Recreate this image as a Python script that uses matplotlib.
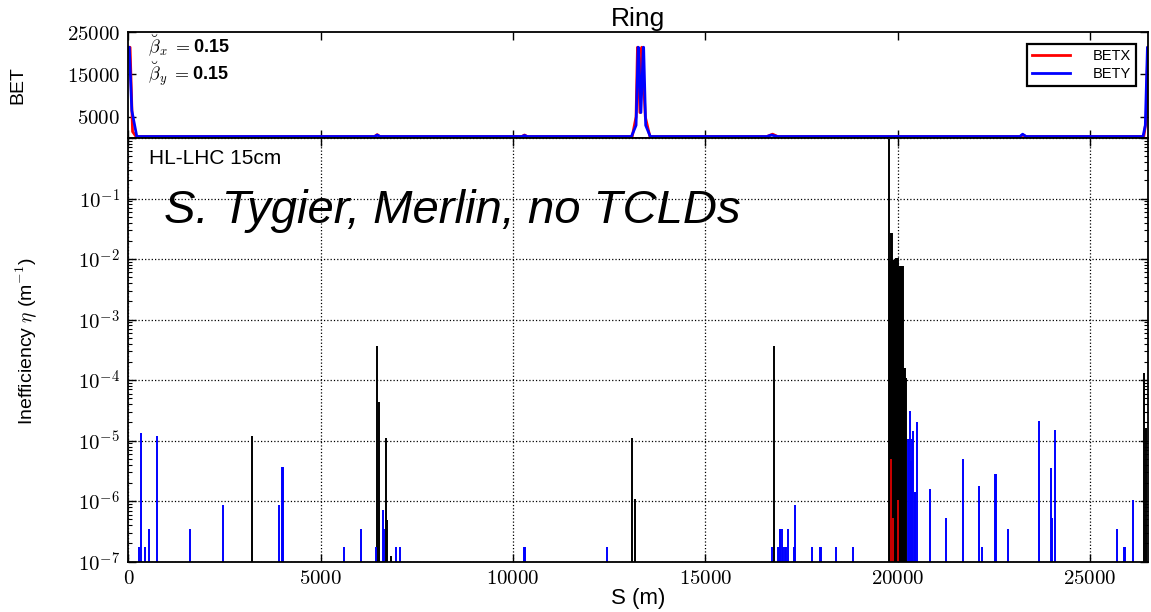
import numpy as np
import matplotlib
matplotlib.use("Agg")
import matplotlib.pyplot as plt
from matplotlib.ticker import FuncFormatter, FixedLocator, LogLocator, NullFormatter

plt.rcParams['font.family'] = ['Liberation Sans', 'DejaVu Sans']
plt.rcParams['mathtext.fontset'] = 'cm'

# ---------------- data ----------------
# optics (top panel)
betx_s = [0, 45, 110, 200, 3000, 6400, 6470, 6540, 10230, 10300, 10370,
          13100, 13200, 13237, 13244, 13300, 13347, 13354, 13440, 13560,
          16600, 16750, 16880, 23180, 23260, 23340, 26400, 26460, 26505, 26520]
betx = [21400, 21400, 1500, 350, 350, 350, 800, 350, 350, 700, 350,
        350, 5000, 21400, 21400, 6000, 21400, 21400, 5000, 350,
        350, 900, 350, 350, 700, 350, 350, 4000, 21400, 21400]
bety_s = [0, 25, 90, 220, 3000, 6400, 6470, 6540, 10230, 10300, 10370,
          13080, 13200, 13255, 13262, 13326, 13390, 13397, 13450, 13570,
          16600, 16720, 16880, 23180, 23250, 23340, 26380, 26440, 26495, 26520]
bety = [21400, 21400, 6500, 350, 350, 350, 700, 350, 350, 600, 350,
        350, 3000, 21400, 21400, 6000, 21400, 21400, 3000, 350,
        350, 700, 350, 350, 900, 350, 350, 3000, 21400, 21400]

# loss map (bottom panel)
coll_s = [3215, 6464, 6507, 6697, 6731, 6819, 13090, 13176, 16789,
          19775, 19800, 19825, 19850, 19875, 19900, 19925, 19950, 19975, 20000,
          20025, 20050, 20075, 20100, 20125, 20150, 20175, 20200, 20225,
          26395, 26465]
coll_eta = [1.2e-5, 3.6e-4, 4.3e-5, 1.1e-5, 4.9e-7, 1.25e-7, 1.1e-5, 1.1e-6, 3.6e-4,
            0.95, 9.4e-3, 2.7e-2, 2.7e-2, 9.5e-3, 9.5e-3, 9.5e-3, 1.05e-2, 1.05e-2, 1.05e-2,
            7.0e-3, 7.8e-3, 7.8e-3, 7.8e-3, 7.6e-3, 7.6e-3, 1.6e-4, 1.6e-4, 1.1e-4,
            1.3e-4, 1.6e-5]

cold_s = [278, 339, 425, 546, 746, 1603, 2469, 3925, 3990, 4030, 5614, 6040, 6429,
          6611, 6653, 6949, 7069, 10280, 10305, 12432,
          16729, 16880, 16905, 16930, 16955, 16990, 17030, 17060, 17090, 17140,
          17309, 17335, 17769, 17975, 18000, 18401, 18830,
          20260, 20285, 20320, 20345, 20370, 20410, 20440, 20465, 20515,
          20834, 21258, 21692, 22115, 22203, 22530, 22555, 22870,
          23667, 23979, 24013, 24101, 25702, 25890, 25912, 26127]
cold_eta = [1.75e-7, 1.35e-5, 1.75e-7, 3.5e-7, 1.2e-5, 3.5e-7, 8.75e-7, 8.75e-7, 3.7e-6, 3.7e-6,
            1.75e-7, 3.5e-7, 1.75e-7,
            7.2e-7, 3.5e-7, 1.75e-7, 1.75e-7, 1.75e-7, 1.75e-7, 1.75e-7,
            1.75e-7, 1.75e-7, 1.75e-7, 3.5e-7, 3.5e-7, 3.5e-7, 1.75e-7, 1.75e-7, 1.75e-7, 3.5e-7,
            1.75e-7, 8.75e-7, 1.75e-7, 1.75e-7, 1.75e-7, 1.75e-7, 1.75e-7,
            1.07e-5, 1.07e-5, 3.1e-5, 4.6e-6, 1.07e-5, 1.47e-5, 1.4e-6, 1.4e-6, 2.05e-5,
            1.6e-6, 5.2e-7, 5.0e-6, 1.75e-6, 1.75e-7, 2.85e-6, 2.85e-6, 3.5e-7,
            2.15e-5, 3.5e-6, 5.2e-7, 1.5e-5, 3.5e-7, 1.75e-7, 1.75e-7, 1.05e-6]

warm_s = [19820, 19890, 20020]
warm_eta = [4.9e-6, 5.2e-7, 1.05e-6]

s_ticks = [0, 5000, 10000, 15000, 20000, 25000]
bet_ticks = [5000, 15000, 25000]
s_max = 26510
eta_min, eta_max = 1e-7, 1.0

# ---------------- figure ----------------
fig = plt.figure(figsize=(11.51, 6.12), dpi=100)
axL = 0.1115
axW = 0.9974 - axL
ax1 = fig.add_axes([axL, 0.7745, axW, 0.1732])
ax2 = fig.add_axes([axL, 0.0822, axW, 0.6923])

# top panel
ax1.plot(betx_s, betx, color='red', lw=2.0, label='BETX')
ax1.plot(bety_s, bety, color='blue', lw=2.0, label='BETY')
ax1.set_xlim(0, s_max)
ax1.set_ylim(0, 25000)
ax1.yaxis.set_major_locator(FixedLocator(bet_ticks))
ax1.xaxis.set_major_locator(FixedLocator(s_ticks))
ax1.yaxis.set_major_formatter(FuncFormatter(lambda v, p: r'$%d$' % v))
ax1.xaxis.set_major_formatter(NullFormatter())
ax1.set_ylabel('BET', fontsize=14)
ax1.yaxis.set_label_coords(-0.100, 0.5)
ax1.set_title('Ring', fontsize=19, pad=4)
ax1.text(0.019, 0.81, r'$\breve{\beta}_x\ =$0.15', transform=ax1.transAxes,
         fontsize=13, fontweight='bold', va='baseline', ha='left')
ax1.text(0.019, 0.55, r'$\breve{\beta}_y\ =$0.15', transform=ax1.transAxes,
         fontsize=13, fontweight='bold', va='baseline', ha='left')
leg = ax1.legend(loc='upper right', bbox_to_anchor=(0.995, 0.955), fontsize=10.5,
                 fancybox=False, framealpha=1, edgecolor='black',
                 handlelength=2.6, borderpad=0.35, labelspacing=0.25, handletextpad=1.5)
leg.get_frame().set_linewidth(1.6)

# bottom panel
ax2.set_yscale('log')
ax2.vlines(coll_s, eta_min, coll_eta, color='black', lw=1.4)
ax2.vlines(cold_s, eta_min, cold_eta, color='blue', lw=1.4)
ax2.vlines(warm_s, eta_min, warm_eta, color='#cc0000', lw=1.4)
ax2.set_xlim(0, s_max)
ax2.set_ylim(eta_min, eta_max)
ax2.xaxis.set_major_locator(FixedLocator(s_ticks))
ax2.xaxis.set_major_formatter(FuncFormatter(lambda v, p: r'$%d$' % v))
ax2.yaxis.set_major_locator(FixedLocator([1e-7, 1e-6, 1e-5, 1e-4, 1e-3, 1e-2, 1e-1, 1.0]))
ax2.yaxis.set_minor_locator(LogLocator(base=10, subs=np.arange(2, 10), numticks=20))
ax2.yaxis.set_minor_formatter(NullFormatter())
ax2.yaxis.set_major_formatter(FuncFormatter(
    lambda v, p: r'$10^{%d}$' % int(round(np.log10(v))) if v < 0.5 else ''))
ax2.grid(True, which='major', linestyle=':', color='black', lw=0.9)
ax2.set_xlabel('S (m)', fontsize=16)
ax2.xaxis.set_label_coords(0.5, -0.062)
ax2.set_ylabel(r'Inefficiency $\eta$ (m$^{-1}$)', fontsize=14)
ax2.yaxis.set_label_coords(-0.088, 0.52)
ax2.text(0.02, 0.9386, 'HL-LHC 15cm', transform=ax2.transAxes, fontsize=15,
         va='baseline', ha='left')
ax2.text(0.035, 0.799, 'S. Tygier, Merlin, no TCLDs', transform=ax2.transAxes,
         fontsize=34, style='italic', va='baseline', ha='left')

for ax in (ax1, ax2):
    for sp in ax.spines.values():
        sp.set_linewidth(1.3)
    ax.tick_params(which='both', direction='in', top=True, right=True,
                   labelsize=15, pad=6)
    ax.tick_params(which='major', length=6, width=1.0)
    ax.tick_params(which='minor', length=3, width=0.8)
ax2.tick_params(axis='x', pad=5)

fig.savefig('out.png', dpi=100)
